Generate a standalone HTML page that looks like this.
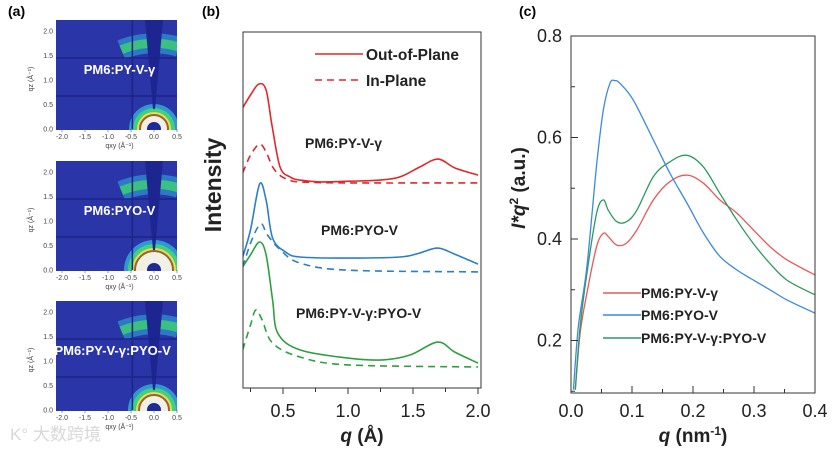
<!DOCTYPE html>
<html><head><meta charset="utf-8">
<style>
html,body{margin:0;padding:0;background:#fff;overflow:hidden;}
svg{display:block;font-family:"Liberation Sans","Noto Sans CJK SC",sans-serif;}
</style></head>
<body>
<svg id="fig" width="838" height="451" viewBox="0 0 838 451">
<defs>
  <radialGradient id="glow" cx="0.5" cy="1" r="0.5">
    <stop offset="0" stop-color="#3c7fe0" stop-opacity="0.9"/>
    <stop offset="0.6" stop-color="#3358c8" stop-opacity="0.5"/>
    <stop offset="1" stop-color="#2a36a8" stop-opacity="0"/>
  </radialGradient>
</defs>
<text x="8" y="16" font-size="14" font-weight="bold">(a)</text>
<text x="202" y="16" font-size="14" font-weight="bold">(b)</text>
<text x="519" y="16" font-size="14" font-weight="bold">(c)</text>
<g id="panelA"></g>
<g id="panelB"></g>
<g id="panelC"></g>
<text x="10" y="440" font-size="17" fill="#d8d8d8">K° 大数跨境</text>
</svg>
<script>
const NS="http://www.w3.org/2000/svg";
function mk(tag,attrs,parent){const e=document.createElementNS(NS,tag);for(const k in attrs)e.setAttribute(k,attrs[k]);if(parent)parent.appendChild(e);return e;}

// ---------- Panel A data ----------
const aSamples=["PM6:PY-V-γ","PM6:PYO-V","PM6:PY-V-γ:PYO-V"];
const aRing=[14,19,15];
const aTops=[20,161,301];
const aQxyTicks=["-2.0","-1.5","-1.0","-0.5","0.0","0.5"];
const aQzTicks=["0.0","0.5","1.0","1.5","2.0"];

// ---------- Panel B data ----------
const bXTicks=[0.5,1.0,1.5,2.0];
const bRedSolidQ=[0.19,0.25,0.315,0.37,0.415,0.477,0.554,0.631,0.785,1.015,1.246,1.4,1.554,1.692,1.823,2.0];
const bRedSolidV=[78.7,82.3,85.4,83.7,73.9,62.1,59.3,58.4,57.9,58.1,58.4,59.3,62.1,64.3,61.8,59.8];
const bRedDashQ=[0.19,0.25,0.32,0.37,0.42,0.48,0.55,0.63,1.0,2.0];
const bRedDashV=[60.4,65.4,68.5,66.3,62.1,59.6,58.4,57.9,57.6,57.6];
const bBlueSolidQ=[0.19,0.25,0.32,0.37,0.42,0.52,0.63,1.0,1.4,1.55,1.69,1.82,2.0];
const bBlueSolidV=[36.8,44.4,57.3,52.8,42.1,38.2,36.8,36.5,36.8,37.9,39.3,37.6,34.8];
const bBlueDashQ=[0.19,0.26,0.33,0.38,0.48,0.63,1.0,2.0];
const bBlueDashV=[34.0,41.6,46.1,43.0,38.8,35.1,33.1,32.6];
const bGreenSolidQ=[0.19,0.25,0.32,0.37,0.42,0.46,0.63,1.0,1.27,1.48,1.69,1.82,2.0];
const bGreenSolidV=[34.0,37.4,41.0,37.4,24.7,15.4,10.7,8.4,7.9,9.3,12.9,10.1,7.0];
const bGreenDashQ=[0.19,0.25,0.29,0.34,0.42,0.63,1.0,2.0];
const bGreenDashV=[10.7,17.7,21.9,19.1,12.6,8.7,6.5,5.9];

// ---------- Panel C data ----------
const cXTicks=["0.0","0.1","0.2","0.3","0.4"];
const cYTicks=["0.2","0.4","0.6","0.8"];
const cBlueQ=[0.004,0.012,0.026,0.042,0.053,0.064,0.072,0.080,0.102,0.135,0.162,0.19,0.217,0.244,0.272,0.299,0.326,0.354,0.4];
const cBlueV=[0.103,0.227,0.345,0.546,0.654,0.707,0.712,0.707,0.674,0.595,0.530,0.471,0.412,0.366,0.339,0.319,0.300,0.280,0.254];
const cRedQ=[0.007,0.015,0.026,0.042,0.053,0.061,0.075,0.091,0.108,0.135,0.162,0.190,0.217,0.244,0.272,0.299,0.326,0.354,0.4];
const cRedV=[0.103,0.214,0.293,0.385,0.411,0.405,0.388,0.392,0.418,0.477,0.513,0.526,0.510,0.477,0.451,0.418,0.385,0.359,0.329];
const cGreenQ=cRedQ;
const cGreenV=[0.103,0.227,0.332,0.451,0.477,0.457,0.434,0.434,0.457,0.523,0.552,0.565,0.542,0.490,0.437,0.391,0.352,0.319,0.290];

function smoothPath(pts){
  let d="M"+pts[0][0].toFixed(1)+","+pts[0][1].toFixed(1);
  for(let i=0;i<pts.length-1;i++){
    const p0=pts[i-1]||pts[i],p1=pts[i],p2=pts[i+1],p3=pts[i+2]||p2;
    const c1=[p1[0]+(p2[0]-p0[0])/6,p1[1]+(p2[1]-p0[1])/6];
    const c2=[p2[0]-(p3[0]-p1[0])/6,p2[1]-(p3[1]-p1[1])/6];
    d+=" C"+c1[0].toFixed(1)+","+c1[1].toFixed(1)+" "+c2[0].toFixed(1)+","+c2[1].toFixed(1)+" "+p2[0].toFixed(1)+","+p2[1].toFixed(1);
  }
  return d;
}

// ===== Panel A =====
(function(){
  const g=document.getElementById('panelA');
  const L=56,R=177,H=110;
  const ax=q=>154+q*46;
  aSamples.forEach((s,i)=>{
    const top=aTops[i],b=top+109;
    const ay=v=>b-v*49;
    const grp=mk('g',{},g);
    
    
    const cid='clipA'+i;
    const cp=mk('clipPath',{id:cid},grp);mk('rect',{x:L,y:top,width:R-L,height:H},cp);
    const img=mk('g',{'clip-path':'url(#'+cid+')'},grp);
    mk('rect',{x:L,y:top,width:R-L,height:H,fill:'#2a35a8'},img);
    mk('ellipse',{cx:ax(0),cy:b,rx:95,ry:100,fill:'url(#glow)'},img);
    const wc='wedgeA'+i;
    const wp=mk('clipPath',{id:wc},grp);
    mk('polygon',{points:ax(0)+","+b+" "+(ax(0)-45)+","+top+" "+(R+10)+","+top},wp);
    const arcs=mk('g',{'clip-path':'url(#'+wc+')'},img);
    mk('circle',{cx:ax(0),cy:b,r:ay(0)-ay(1.75),fill:'none',stroke:'#2fa8d8','stroke-width':20,opacity:0.6},arcs);
    mk('circle',{cx:ax(0),cy:b,r:ay(0)-ay(1.75),fill:'none',stroke:'#3cc878','stroke-width':9,opacity:0.9},arcs);
    // bottom rings
    const r0=aRing[i];
    mk('circle',{cx:ax(0),cy:b,r:r0+11,fill:'#32a8d8',opacity:0.85},img);
    mk('circle',{cx:ax(0),cy:b,r:r0+7,fill:'#40d080'},img);
    mk('circle',{cx:ax(0),cy:b,r:r0+3,fill:'#e8e048'},img);
    mk('circle',{cx:ax(0),cy:b,r:r0,fill:'#f0f0e4',stroke:'#9a6038','stroke-width':2},img);
    mk('circle',{cx:ax(0),cy:b,r:7,fill:'#1e2a9a'},img);
    // missing wedge
    mk('polygon',{points:(ax(0)-1)+","+(b-20)+" "+(ax(0)-9)+","+top+" "+(ax(0)+9)+","+top+" "+(ax(0)+1)+","+(b-20),fill:'#1d2590'},img);
    // detector gaps
    mk('line',{x1:L,y1:top+38,x2:R,y2:top+38,stroke:'#1c2484','stroke-width':1.5},img);
    mk('line',{x1:L,y1:top+76,x2:R,y2:top+76,stroke:'#1c2484','stroke-width':1.5},img);
    mk('line',{x1:ax(-0.47),y1:top,x2:ax(-0.47),y2:b,stroke:'#1c2484','stroke-width':1.5},img);
    // label
    const t=mk('text',{x:(i==2?ax(-0.9):ax(-0.75)),y:top+54,'font-size':13,'font-weight':'bold',fill:'#fff','text-anchor':'middle'},grp);
    t.textContent=s;
    
    
    aQxyTicks.forEach(tk=>{
      const x=ax(parseFloat(tk));
      mk('line',{x1:x,y1:b,x2:x,y2:b+3,stroke:'#555','stroke-width':0.6},grp);
      const tt=mk('text',{x:x,y:b+10,'font-size':7,fill:'#444','text-anchor':'middle'},grp);tt.textContent=tk;
      
      
    });
    aQzTicks.forEach(tk=>{
      const y=ay(parseFloat(tk));
      const tt=mk('text',{x:L-3,y:y+2.5,'font-size':7,fill:'#444','text-anchor':'end'},grp);tt.textContent=tk;
      
      
    });
    const xt=mk('text',{x:ax(-0.75),y:b+19,'font-size':7,fill:'#444','text-anchor':'middle'},grp);xt.textContent="qxy (Å⁻¹)";
    
    
    const yt=mk('text',{x:0,y:0,'font-size':7,fill:'#444','text-anchor':'middle',transform:'translate(33,'+(b-50)+') rotate(-90)'},grp);yt.textContent="qz (Å⁻¹)";
    
    
  });
})();

// ===== Panel B =====
(function(){
  const g=document.getElementById('panelB');
  const L=243,R=481,T=32,B=388;
  const x=q=>283+(q-0.5)*130;
  const y=v=>B-v*3.56;
  const cp=mk('clipPath',{id:'clipB'},g);mk('rect',{x:L,y:T,width:R-L,height:B-T},cp);
  const series=[
    [bRedSolidQ,bRedSolidV,'#e0282a',false,'red-out-of-plane'],
    [bRedDashQ,bRedDashV,'#e0282a',true,'red-in-plane'],
    [bBlueSolidQ,bBlueSolidV,'#2a7fc8',false,'blue-out-of-plane'],
    [bBlueDashQ,bBlueDashV,'#2a7fc8',true,'blue-in-plane'],
    [bGreenSolidQ,bGreenSolidV,'#2ea040',false,'green-out-of-plane'],
    [bGreenDashQ,bGreenDashV,'#2ea040',true,'green-in-plane']];
  const lines=mk('g',{'clip-path':'url(#clipB)'},g);
  series.forEach(s=>{
    const pts=s[0].map((q,i)=>[x(q),y(s[1][i])]);
    const p=mk('path',{d:smoothPath(pts),fill:'none',stroke:s[2],'stroke-width':1.6},lines);
    if(s[3])p.setAttribute('stroke-dasharray','7,5');
    
    
  });
  const fr=mk('rect',{x:L,y:T,width:R-L,height:B-T,fill:'none',stroke:'#333','stroke-width':1},g);
  
  
  for(let q=0.25;q<=2.001;q+=0.25){
    const major=bXTicks.some(t=>Math.abs(t-q)<1e-6);
    mk('line',{x1:x(q),y1:B,x2:x(q),y2:B+(major?6:4),stroke:'#333','stroke-width':1},g);
  }
  bXTicks.forEach(t=>{
    const tt=mk('text',{x:x(t),y:417,'font-size':18,fill:'#222','text-anchor':'middle'},g);tt.textContent=t.toFixed(1);
    
    
  });
  const xt=mk('text',{x:362,y:442,'font-size':19,'font-weight':'bold',fill:'#222','text-anchor':'middle'},g);
  xt.innerHTML='<tspan font-style="italic">q</tspan> (Å)';
  
  
  const yt=mk('text',{x:0,y:0,'font-size':23,'font-weight':'bold',fill:'#222','text-anchor':'middle',transform:'translate(221,185) rotate(-90)'},g);
  yt.textContent='Intensity';
  
  
  const lg=mk('g',{},g);
  
  
  mk('line',{x1:315,y1:54,x2:363,y2:54,stroke:'#e0282a','stroke-width':1.6},lg);
  mk('line',{x1:315,y1:80,x2:363,y2:80,stroke:'#e0282a','stroke-width':1.6,'stroke-dasharray':'7,5'},lg);
  const l1=mk('text',{x:366,y:60,'font-size':15.5,'font-weight':'bold',fill:'#222'},lg);l1.textContent='Out-of-Plane';
  
  
  const l2=mk('text',{x:366,y:86,'font-size':15.5,'font-weight':'bold',fill:'#222'},lg);l2.textContent='In-Plane';
  
  
  [['PM6:PY-V-γ',305,148],['PM6:PYO-V',321,235],['PM6:PY-V-γ:PYO-V',296,318]].forEach(a=>{
    const t=mk('text',{x:a[1],y:a[2],'font-size':14,'font-weight':'bold',fill:'#222'},g);t.textContent=a[0];
    
    
  });
})();

// ===== Panel C =====
(function(){
  const g=document.getElementById('panelC');
  const L=571,R=815,T=36,B=393;
  const x=q=>L+q*610;
  const y=v=>T+(0.8-v)*507.5;
  const cp=mk('clipPath',{id:'clipC'},g);mk('rect',{x:L,y:T,width:R-L,height:B-T},cp);
  const lines=mk('g',{'clip-path':'url(#clipC)'},g);
  [[cRedQ,cRedV,'#e8585a','red-line'],[cGreenQ,cGreenV,'#2a9a60','green-line'],[cBlueQ,cBlueV,'#3a8ae0','blue-line']].forEach(s=>{
    const pts=s[0].map((q,i)=>[x(q),y(s[1][i])]);
    const p=mk('path',{d:smoothPath(pts),fill:'none',stroke:s[2],'stroke-width':1.3},lines);
    
    
  });
  const fr=mk('rect',{x:L,y:T,width:R-L,height:B-T,fill:'none',stroke:'#333','stroke-width':1},g);
  
  
  for(let q=0;q<=0.4001;q+=0.05){
    const major=Math.abs(q*10-Math.round(q*10))<1e-6;
    mk('line',{x1:x(q),y1:B,x2:x(q),y2:B-(major?7:4),stroke:'#333','stroke-width':1},g);
  }
  for(let v=0.1;v<=0.8001;v+=0.1){
    const major=Math.round(v*10)%2==0;
    mk('line',{x1:L,y1:y(v),x2:L+(major?7:4),y2:y(v),stroke:'#333','stroke-width':1},g);
  }
  cXTicks.forEach(t=>{
    const tt=mk('text',{x:x(parseFloat(t)),y:417,'font-size':18,fill:'#222','text-anchor':'middle'},g);tt.textContent=t;
    
    
  });
  cYTicks.forEach(t=>{
    const tt=mk('text',{x:562,y:y(parseFloat(t))+6,'font-size':18,fill:'#222','text-anchor':'end'},g);tt.textContent=t;
    
    
  });
  const xt=mk('text',{x:693,y:442,'font-size':19,'font-weight':'bold',fill:'#222','text-anchor':'middle'},g);
  xt.innerHTML='<tspan font-style="italic">q</tspan> (nm<tspan font-size="12" dy="-7">-1</tspan><tspan dy="7">)</tspan>';
  
  
  const yt=mk('text',{x:0,y:0,'font-size':19,'font-weight':'bold',fill:'#222','text-anchor':'middle',transform:'translate(525,188) rotate(-90)'},g);
  yt.innerHTML='<tspan font-style="italic">I*q</tspan><tspan font-size="12" dy="-7">2</tspan><tspan dy="7"> (a.u.)</tspan>';
  
  
  const lg=mk('g',{},g);
  
  
  [['PM6:PY-V-γ','#e8585a',293],['PM6:PYO-V','#3a8ae0',315],['PM6:PY-V-γ:PYO-V','#2a9a60',338]].forEach(a=>{
    mk('line',{x1:603,y1:a[2],x2:641,y2:a[2],stroke:a[1],'stroke-width':1.5},lg);
    const t=mk('text',{x:641,y:a[2]+5,'font-size':14,'font-weight':'bold',fill:'#222'},lg);t.textContent=a[0];
    
    
  });
})();
</script>
</body></html>
